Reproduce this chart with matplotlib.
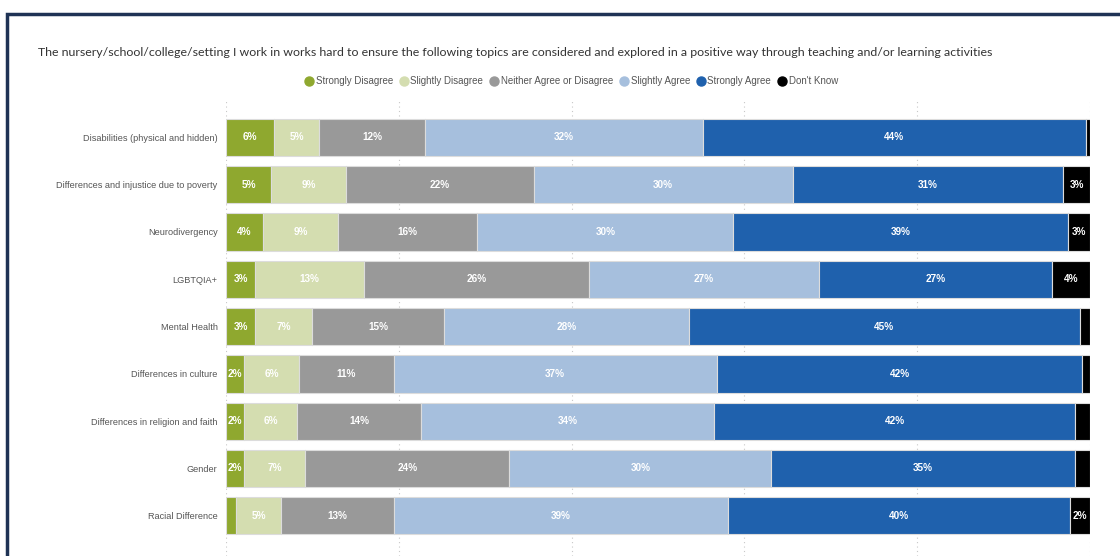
import matplotlib.pyplot as plt
from matplotlib.lines import Line2D
from matplotlib.patches import Rectangle

# Topics (top to bottom) and share of responses per answer, in percent
topics = [
    "Disabilities (physical and hidden)",
    "Differences and injustice due to poverty",
    "Neurodivergency",
    "LGBTQIA+",
    "Mental Health",
    "Differences in culture",
    "Differences in religion and faith",
    "Gender",
    "Racial Difference",
]
answers = ["Strongly Disagree", "Slightly Disagree", "Neither Agree or Disagree",
           "Slightly Agree", "Strongly Agree", "Don't Know"]

strongly_disagree = [5.6, 5.2, 4.3, 3.4, 3.4, 2.1, 2.1, 2.1, 1.2]
slightly_disagree = [5.2, 8.7, 8.7, 12.6, 6.6, 6.4, 6.1, 7.1, 5.2]
neither = [12.2, 21.7, 16.1, 26.0, 15.2, 10.9, 14.4, 23.6, 13.0]
slightly_agree = [32.2, 30.0, 29.6, 26.6, 28.4, 37.4, 33.9, 30.3, 38.7]
strongly_agree = [44.3, 31.3, 38.7, 27.0, 45.2, 42.3, 41.8, 35.2, 39.6]
dont_know = [0.5, 3.1, 2.6, 4.4, 1.2, 0.9, 1.7, 1.7, 2.3]

series = [strongly_disagree, slightly_disagree, neither,
          slightly_agree, strongly_agree, dont_know]
colors = ["#8fa82f", "#d4ddb0", "#999999", "#a6bfdd", "#1f61ad", "#000000"]

plt.rcParams["font.family"] = ["Liberation Sans", "DejaVu Sans"]

fig = plt.figure(figsize=(11.2, 5.56), dpi=100)
ax = fig.add_axes([226 / 1120, 0, 864 / 1120, 456 / 556])

y = list(range(len(topics)))
left = [0.0] * len(topics)
for values, color in zip(series, colors):
    bars = ax.barh(y, values, left=left, height=0.79, color=color,
                   edgecolor="#dcdcdc", linewidth=0.8, zorder=2)
    for bar, v in zip(bars, values):
        if v >= 2:
            ax.text(bar.get_x() + bar.get_width() / 2,
                    bar.get_y() + bar.get_height() / 2,
                    f"{v:.0f}%", ha="center", va="center",
                    color="white", fontsize=7.2, fontweight="semibold", zorder=3)
    left = [l + v for l, v in zip(left, values)]

ax.set_xlim(0, 100)
ax.set_ylim(8.85, -0.79)
ax.set_xticks(range(0, 101, 20))
ax.set_xticklabels([])
ax.set_yticks(y)
ax.set_yticklabels(topics, fontsize=6.6, color="#555555")
ax.tick_params(axis="both", length=0)
ax.tick_params(axis="y", pad=6)
ax.grid(axis="x", linestyle=(0, (1, 3)), color="#c8c8c8", linewidth=0.8, zorder=0)
for side in ax.spines.values():
    side.set_visible(False)

# Dark frame along the top and left edge
fig.add_artist(Rectangle((7 / 1120, -0.1), 1.2, (556 - 14) / 556 + 0.1,
                         transform=fig.transFigure, fill=False,
                         edgecolor="#1f3355", linewidth=2.5))

fig.text(38 / 1120, 1 - 52 / 556,
         "The nursery/school/college/setting I work in works hard to ensure the following "
         "topics are considered and explored in a positive way through teaching and/or "
         "learning activities",
         fontsize=8.9, color="#333333", va="center", family=["Lato", "DejaVu Sans"])

handles = [Line2D([], [], marker="o", linestyle="", markersize=6.5,
                  markerfacecolor=c, markeredgecolor=c) for c in colors]
fig.legend(handles, answers, loc="center", bbox_to_anchor=(571 / 1120, 1 - 81 / 556),
           ncol=6, frameon=False, fontsize=7, labelcolor="#555555",
           handletextpad=0.2, columnspacing=0.6, handlelength=1.0)

fig.savefig("out.png", dpi=100)
plt.close(fig)
